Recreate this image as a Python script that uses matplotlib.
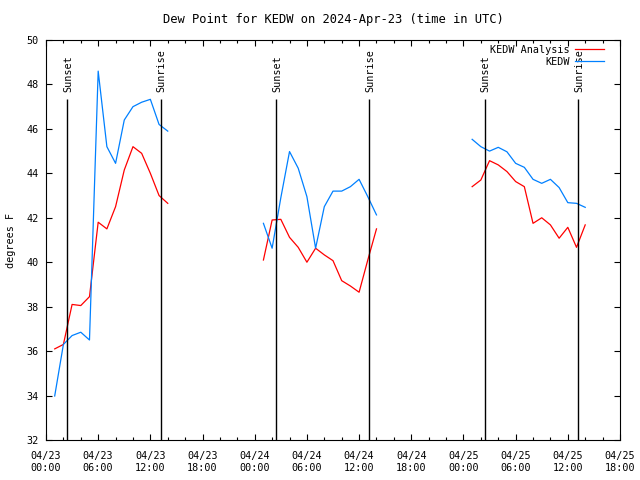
import matplotlib
matplotlib.use("Agg")
import matplotlib.pyplot as plt
import numpy as np

# hours since 2024-04-23 00:00 UTC, one run of hourly values per day
hours_day1 = [1, 2, 3, 4, 5, 6, 7, 8, 9, 10, 11, 12, 13, 14]
hours_day2 = [25, 26, 27, 28, 29, 30, 31, 32, 33, 34, 35, 36, 37, 38]
hours_day3 = [49, 50, 51, 52, 53, 54, 55, 56, 57, 58, 59, 60, 61, 62]

analysis_day1 = [36.1, 36.3, 38.1, 38.05, 38.45, 41.8, 41.5, 42.5, 44.15, 45.2, 44.9, 44.0, 43.0, 42.65]
analysis_day2 = [40.1, 41.9, 41.93, 41.12, 40.67, 40.0, 40.63, 40.33, 40.07, 39.17, 38.93, 38.65, 40.1, 41.5]
analysis_day3 = [43.4, 43.7, 44.57, 44.38, 44.08, 43.63, 43.4, 41.75, 42.0, 41.68, 41.08, 41.57, 40.67, 41.68]

obs_day1 = [33.98, 36.3, 36.7, 36.85, 36.5, 48.6, 45.2, 44.45, 46.4, 47.0, 47.2, 47.33, 46.2, 45.9]
obs_day2 = [41.75, 40.63, 42.9, 44.98, 44.23, 42.95, 40.63, 42.5, 43.2, 43.2, 43.4, 43.73, 42.95, 42.13]
obs_day3 = [45.53, 45.2, 45.0, 45.17, 44.97, 44.45, 44.27, 43.73, 43.55, 43.73, 43.36, 42.68, 42.65, 42.47]

sunset_hours = [2.42, 26.4, 50.42]
sunrise_hours = [13.17, 37.15, 61.13]

tick_hours = list(range(0, 67, 6))
tick_labels = ["04/23\n00:00", "04/23\n06:00", "04/23\n12:00", "04/23\n18:00",
               "04/24\n00:00", "04/24\n06:00", "04/24\n12:00", "04/24\n18:00",
               "04/25\n00:00", "04/25\n06:00", "04/25\n12:00", "04/25\n18:00"]

plt.rcParams["font.family"] = ["DejaVu Sans Mono", "DejaVu Sans"]
plt.rcParams["font.size"] = 7.3

fig = plt.figure(figsize=(6.4, 4.8), dpi=100)
ax = fig.add_axes([46 / 640, 1 - 440 / 480, 574 / 640, 400 / 480])

red = "#ff0000"
blue = "#0080ff"
for i, (h, a, o) in enumerate([(hours_day1, analysis_day1, obs_day1),
                               (hours_day2, analysis_day2, obs_day2),
                               (hours_day3, analysis_day3, obs_day3)]):
    ax.plot(h, a, color=red, lw=0.9, label="KEDW Analysis" if i == 0 else None)
    ax.plot(h, o, color=blue, lw=0.9, label="KEDW" if i == 0 else None)

for t in sunset_hours:
    ax.vlines(t, 32, 47.35, color="black", lw=1)
    ax.text(t + 0.15, 47.65, "Sunset", rotation=90, ha="center", va="bottom")
for t in sunrise_hours:
    ax.vlines(t, 32, 47.35, color="black", lw=1)
    ax.text(t + 0.15, 47.65, "Sunrise", rotation=90, ha="center", va="bottom")

ax.set_xlim(0, 66)
ax.set_ylim(32, 50)
ax.set_xticks(tick_hours)
ax.set_xticklabels(tick_labels)
ax.set_xticks(np.arange(0, 67, 2), minor=True)
ax.set_yticks(range(32, 51, 2))
ax.tick_params(which="both", direction="in", top=True, right=True, width=0.8)
ax.tick_params(which="major", length=4.5)
ax.tick_params(which="minor", length=2.3)
ax.tick_params(axis="x", pad=8)
ax.tick_params(axis="y", pad=5)
for s in ax.spines.values():
    s.set_linewidth(0.8)

ax.set_ylabel("degrees F", labelpad=8)
ax.set_title("Dew Point for KEDW on 2024-Apr-23 (time in UTC)", pad=12)

ax.legend(loc="upper right", bbox_to_anchor=(0.985, 1.006), frameon=False,
          markerfirst=False, handlelength=2.9, handletextpad=0.5,
          labelspacing=0.22, borderaxespad=0.3)

fig.savefig("out.png", dpi=100)
